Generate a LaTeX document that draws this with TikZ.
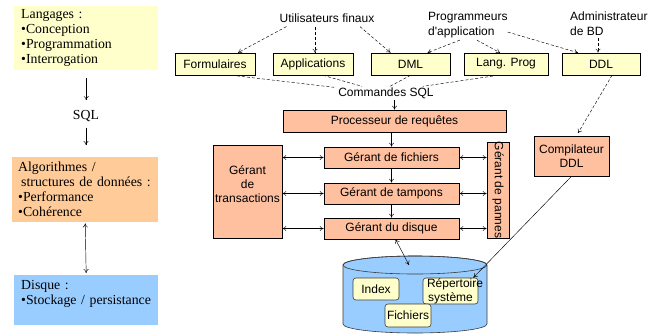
\documentclass[tikz,border=0pt]{standalone}
\usepackage{fontspec}
\setmainfont{Liberation Serif}
\newfontfamily\arialfont{Liberation Sans}
\usetikzlibrary{arrows.meta,calc}
\definecolor{paleyellow}{RGB}{255,255,204}
\definecolor{peach}{RGB}{255,204,153}
\definecolor{salmon}{RGB}{255,192,160}
\definecolor{skyblue}{RGB}{153,204,255}
\definecolor{rim}{RGB}{60,60,60}
\begin{document}
\begin{tikzpicture}[x=1pt,y=-1pt,
  >={To[length=4pt,width=5pt]},
  every node/.style={font=\arialfont\fontsize{12}{14}\selectfont},
  note/.style={font=\fontsize{13.8}{15}\selectfont, align=left,
    inner xsep=7pt, inner ysep=0pt, anchor=north west},
  lbl/.style={inner sep=1pt},
  ybox/.style={draw, fill=paleyellow, minimum height=22pt, inner sep=0pt, line width=0.6pt},
  sbox/.style={draw, fill=salmon, inner sep=0pt, line width=0.6pt},
  dbox/.style={draw=rim, fill=paleyellow, rounded corners=3pt, inner sep=0pt, line width=0.6pt},
  link/.style={line width=0.45pt},
  dashlink/.style={line width=0.45pt, dash pattern=on 3pt off 2pt},
]
\path[use as bounding box, fill=white] (0,0) rectangle (648,335);

% ---- left column: abstraction levels
\node[note, fill=paleyellow, text width=130pt, minimum width=144pt, minimum height=64pt]
  (lang) at (14,6) {Langages :\\•Conception\\•Programmation\\•Interrogation};
\node[font=\fontsize{13.8}{15}\selectfont, inner sep=1pt] (sql) at (86,116) {SQL};
\node[note, fill=peach, inner xsep=6pt, text width=134pt, minimum width=146pt, minimum height=65pt]
  (algo) at (12,157) {Algorithmes /\\\mbox{\hspace*{3pt}structures de données :}\\•Performance\\•Cohérence};
\node[note, fill=skyblue, text width=130pt, minimum width=144pt]
  (disk) at (14,275) {\parbox[c][50pt][t]{130pt}{\rule{0pt}{14pt}Disque :\\•Stockage / persistance}};

\draw[link,->, shorten <=8pt, shorten >=9pt] (lang.south) -- (lang.south |- sql.north);
\draw[link,->, shorten <=5pt, shorten >=12pt] (sql.south) -- (sql.south |- algo.north);
\draw[link,<->, shorten <=1pt, shorten >=2pt] (algo.south) -- (disk.north);

% ---- users and interfaces
\node[lbl] (users) at (327,18) {Utilisateurs finaux};
\node[lbl, align=left, anchor=north west, font=\arialfont\fontsize{12}{15}\selectfont]
  (progs) at (427,11) {Programmeurs\\d'application};
\node[lbl, align=left, anchor=north west, font=\arialfont\fontsize{12}{15}\selectfont]
  (admin) at (569,11) {Administrateur\\de BD};

\node[ybox, minimum width=80pt] (form) at (215,64) {Formulaires};
\node[ybox, minimum width=80pt] (app) at (313,64) {Applications};
\node[ybox, minimum width=79pt] (dml) at (410.5,64) {DML};
\node[ybox, minimum width=84pt] (lprog) at (506,64) {Lang. Prog};
\node[ybox, minimum width=78pt] (ddl) at (601,64) {DDL};

\draw[dashlink,->] ($(users.south west)+(8,3)$) -- ($(form.north)+(23,0)$);
\draw[dashlink,->] ($(users.south)+(-12,3)$) -- ($(app.north)+(2,0)$);
\draw[dashlink,->] ($(users.south)+(33,3)$) -- ($(dml.north)+(-20,0)$);
\draw[dashlink,->] ($(progs.south)+(-8,1)$) -- ($(dml.north)+(17,0)$);
\draw[dashlink,->] ($(progs.south)+(9,1)$) -- ($(lprog.north)+(-6,0)$);
\draw[dashlink,->] ($(progs.east)+(-1,7)$) -- ($(ddl.north)+(-23,0)$);
\draw[dashlink,->] ($(admin.south west)+(29,1)$) -- ($(ddl.north)+(-3,0)$);

% ---- SQL commands
\node[lbl] (cmd) at (386,93) {Commandes SQL};
\draw[dashlink] ($(form.south)+(17,0)$) -- ($(cmd.north west)+(-3,1)$);
\draw[dashlink] ($(app.south)+(10,0)$) -- ($(cmd.north)+(-24,0)$);
\draw[dashlink] (dml.south) -- ($(cmd.north)+(4,0)$);
\draw[dashlink] ($(lprog.south)+(-8,0)$) -- ($(cmd.north)+(37,0)$);

% ---- engine
\node[sbox, minimum width=223pt, minimum height=22pt] (proc) at (394.5,121) {Processeur de requêtes};
\node[sbox, minimum width=135pt, minimum height=21pt] (fich) at (391.5,157.5) {Gérant de fichiers};
\node[sbox, minimum width=135pt, minimum height=21pt] (tamp) at (391.5,193.5) {Gérant de tampons};
\node[sbox, minimum width=135pt, minimum height=21pt] (disq) at (391.5,228.5) {Gérant du disque};
\node[sbox, minimum width=69pt, minimum height=93pt, align=center]
  (trans) at (247.5,191.5) {Gérant\\de\\transactions\\\mbox{}};
\node[sbox, rotate=-90, minimum width=94pt, minimum height=22pt] (pannes) at (498,190) {Gérant de pannes};
\node[sbox, minimum width=75pt, minimum height=40pt, align=center,
  font=\arialfont\fontsize{12}{13.5}\selectfont] (comp) at (571.5,156) {Compilateur\\DDL};

\draw[link,->] (cmd.south -| proc.north) -- (proc.north);
\draw[link,->] (proc.south -| fich.north) -- (fich.north);
\draw[link,->] (fich.south) -- (tamp.north);
\draw[link,->] (tamp.south) -- (disq.north);
\foreach \g in {fich,tamp,disq} {
  \draw[link,<->] (trans.east |- \g.west) -- (\g.west);
  \draw[link,<->] (\g.east) -- (\g.east -| pannes.south);
}
\draw[dashlink,->, shorten >=3pt] ($(ddl.south)+(11,0)$) -- ($(comp.north)+(5,0)$);

% ---- database cylinder
\filldraw[fill=skyblue, draw=rim, line width=0.6pt]
  (343,265) -- (343,324) arc[start angle=180, end angle=360, x radius=72pt, y radius=9pt]
  -- (487,265) arc[start angle=0, end angle=180, x radius=72pt, y radius=9pt] -- cycle;
\draw[draw=rim, line width=0.6pt] (415,265) ellipse [x radius=72pt, y radius=9pt];
\coordinate (dbtop) at (409,265);
\draw[link,<->] ($(disq.south)+(4,0)$) -- (dbtop);

\node[dbox, minimum width=46pt, minimum height=22pt] (idx) at (376,289) {Index};
\node[dbox, minimum width=55pt, minimum height=26pt, inner xsep=4pt]
  (rep) at (450.5,291) {\parbox{47pt}{\centering Répertoire\\système}};
\node[dbox, minimum width=46pt, minimum height=23pt] (fic) at (408,315.5) {Fichiers};

\draw[link,->] (comp.south) -- ($(rep.north east)+(-5,0)$);
\end{tikzpicture}
\end{document}
